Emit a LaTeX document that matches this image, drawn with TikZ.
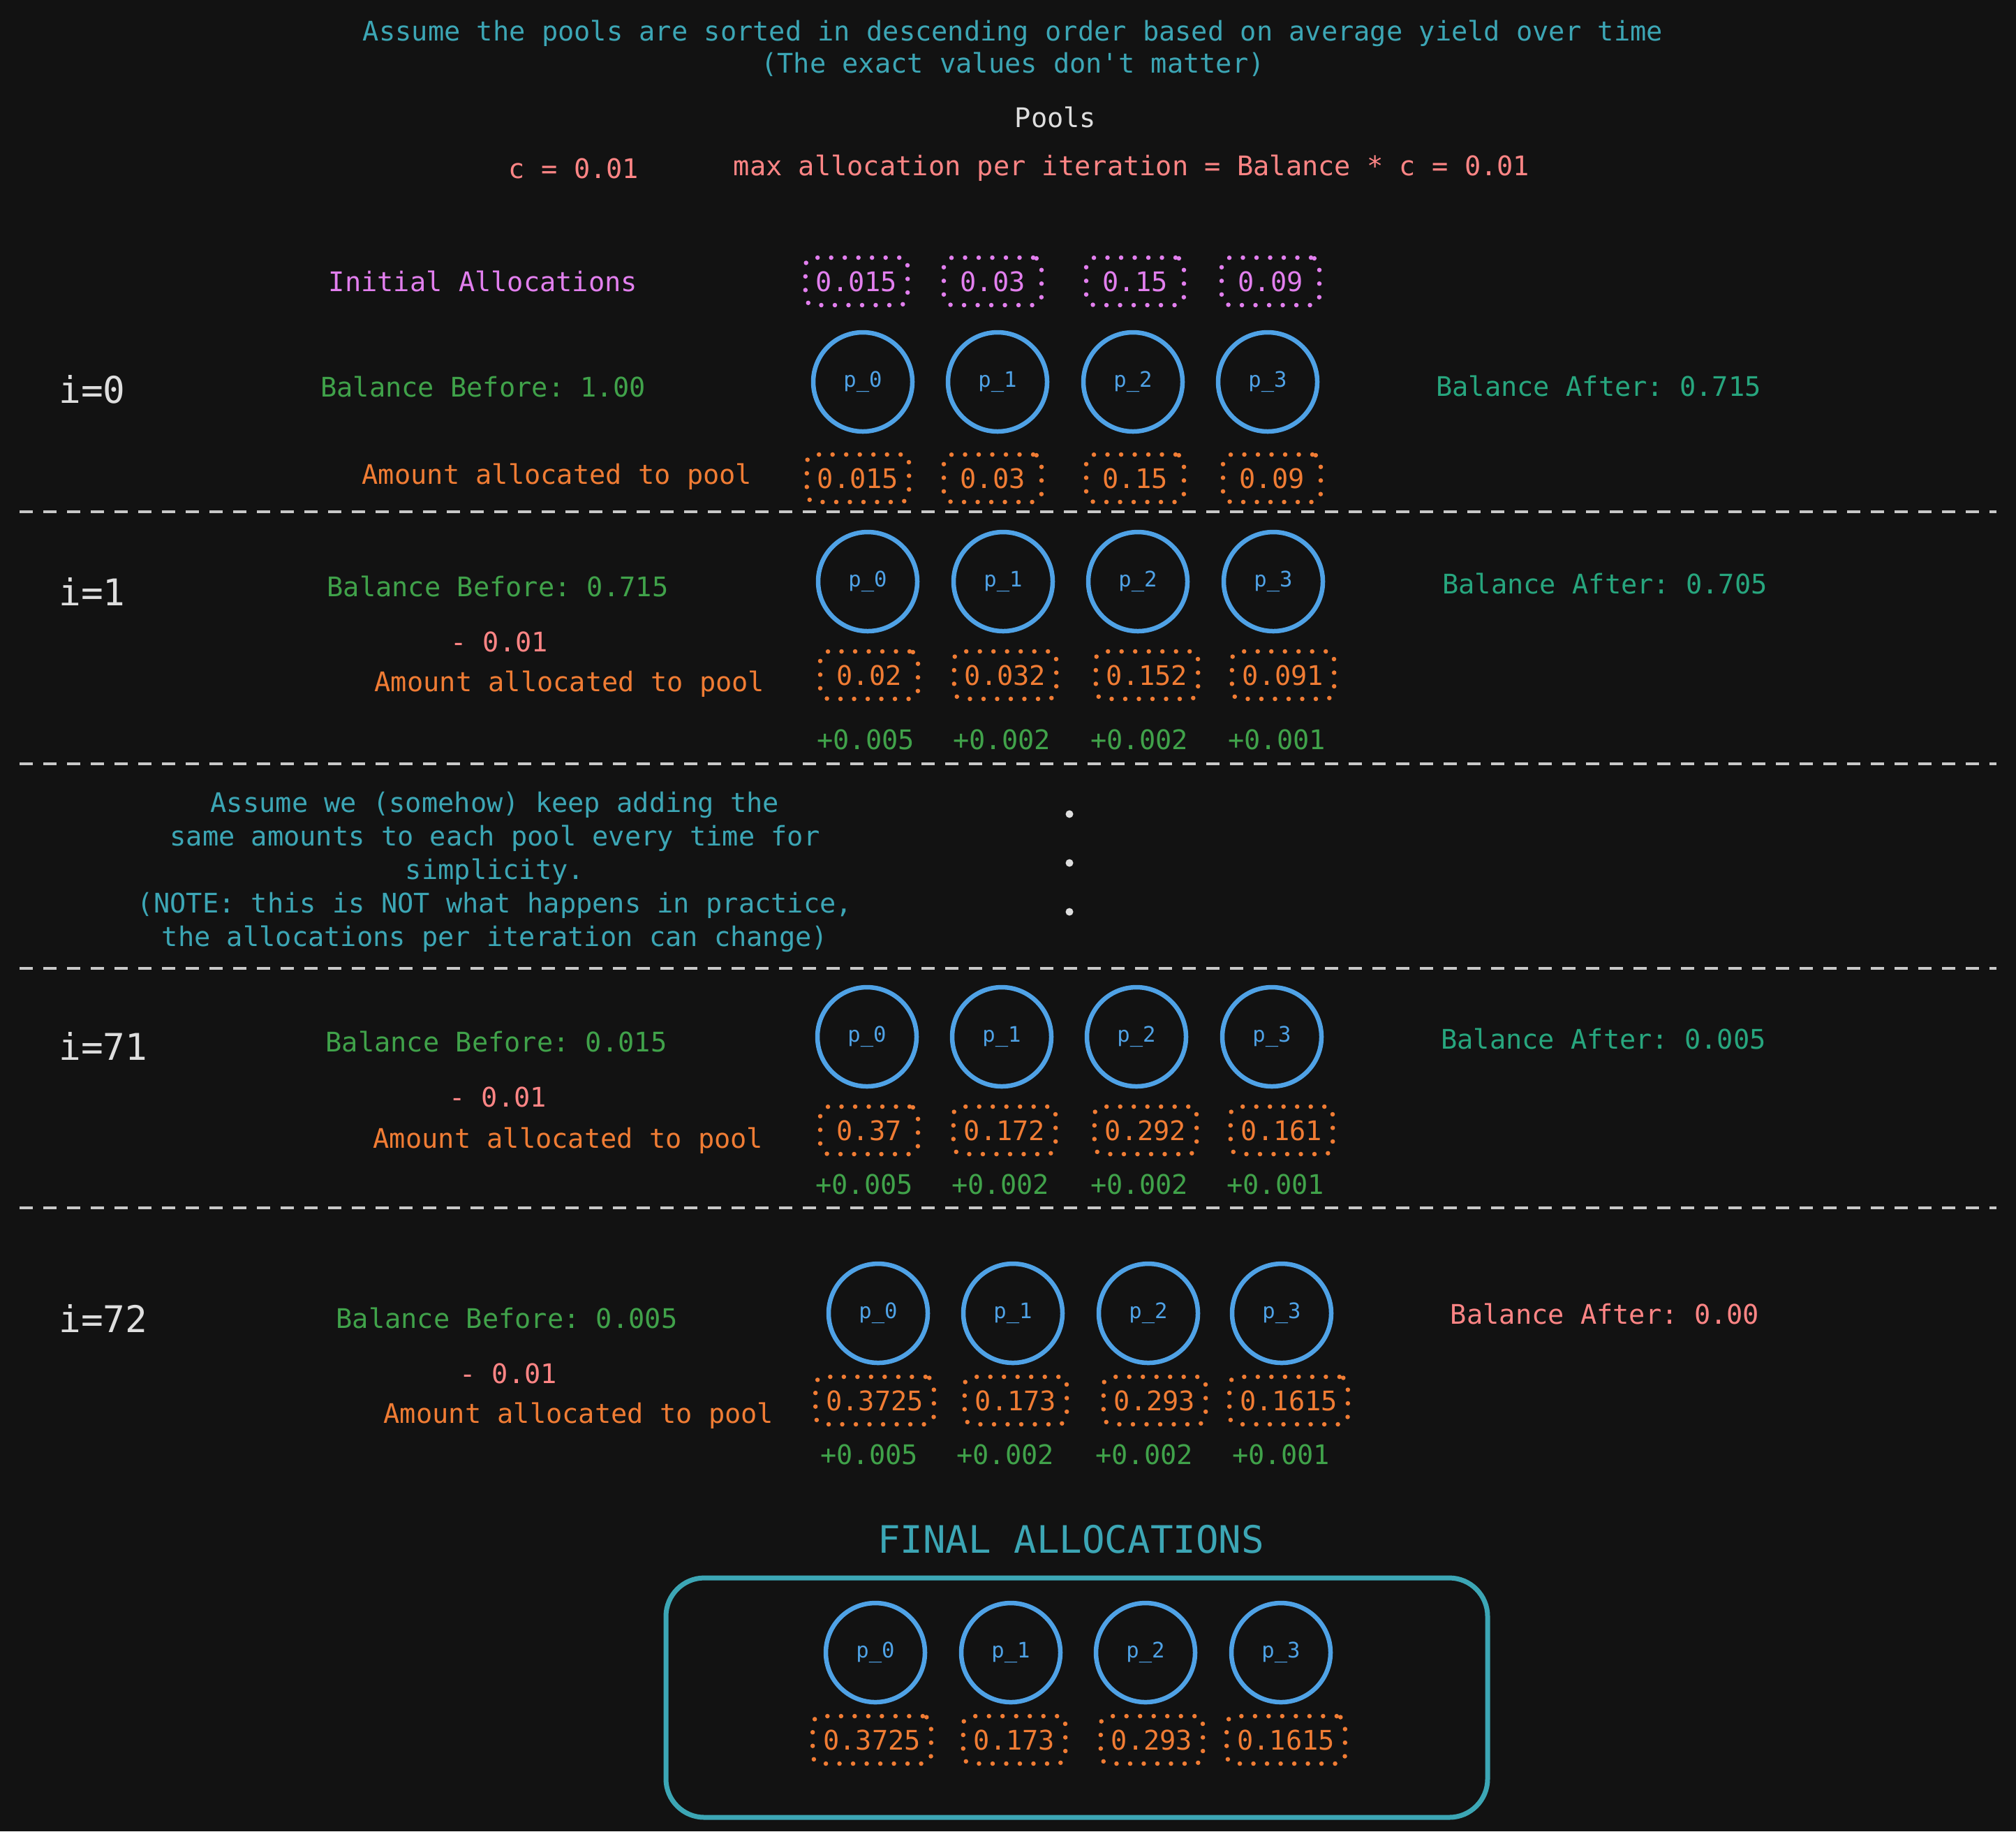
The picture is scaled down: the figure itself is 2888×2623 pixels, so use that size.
\documentclass[tikz,border=0pt]{standalone}
\usepackage{fontspec}
\setmainfont{DejaVu Sans Mono}
\frenchspacing
\definecolor{bg}{HTML}{121212}
\definecolor{titlecyan}{HTML}{3CA6B5}
\definecolor{pinkred}{HTML}{FF8585}
\definecolor{violetc}{HTML}{E27FEE}
\definecolor{greenc}{HTML}{40A24A}
\definecolor{tealc}{HTML}{27A67E}
\definecolor{orangec}{HTML}{F07C34}
\definecolor{poolblue}{HTML}{4FA2E6}
\definecolor{whitec}{HTML}{DEDEDE}
\tikzset{
  pool/.style={draw=poolblue, line width=0.65mm, circle, minimum size=14.2mm, inner sep=0pt,
    text=poolblue, font=\fontsize{8.7}{10}\selectfont},
  amount/.style={draw=orangec, line width=0.65mm, dash pattern=on 0pt off 1.95mm, line cap=round,
    rounded corners=1.2mm, minimum width=14mm, minimum height=6.8mm, inner xsep=1.5mm, text=orangec},
  initbox/.style={amount, draw=violetc, text=violetc},
  gain/.style={text=greenc},
  sepline/.style={draw=whitec!90!black, line width=0.4mm, dash pattern=on 1.9mm off 1.5mm},
  iter/.style={anchor=west, text=whitec, font=\fontsize{15}{18}\selectfont},
  dotnode/.style={circle, fill=whitec, inner sep=0pt, minimum width=0.9mm, minimum height=1.1mm}
}
\begin{document}
\begin{tikzpicture}[x=0.1mm,y=-0.1mm,font=\fontsize{11}{13.6}\selectfont]
  \fill[bg] (0,0) rectangle (2888,2623);
  \useasboundingbox (0,0) rectangle (2888,2623);

  % header
  \node[text=titlecyan, align=center, font=\fontsize{11}{13}\selectfont] (title) at (1451,69)
    {Assume the pools are sorted in descending order based on average yield over time\\(The exact values don\textquotesingle t matter)};
  \node[text=whitec] (pools) at (1512,168) {Pools};
  \node[text=pinkred] (cval) at (822,241) {c = 0.01};
  \node[text=pinkred] (maxalloc) at (1621,241) {max allocation per iteration = Balance * c = 0.01};

  % initial allocations
  \node[text=violetc] (initlbl) at (692,403) {Initial Allocations};
  \foreach \x/\v [count=\k from 0] in {1227/0.015, 1422/0.03, 1626/0.15, 1820/0.09}
    \node[initbox] (init-\k) at (\x,403) {\v};

  % i=0
  \node[iter] (it0) at (72,558) {i=0};
  \node[text=greenc] (before0) at (692,554) {Balance Before: 1.00};
  \node[text=tealc] (after0) at (2290,553) {Balance After: 0.715};
  \node[text=orangec] (amt0) at (798,683) {Amount allocated to pool};
  \foreach \x/\k in {1236/0, 1429/1, 1623/2, 1816/3}
    \node[pool] (pa-\k) at (\x,547) {p\_\k};
  \foreach \x/\v [count=\k from 0] in {1229/0.015, 1422/0.03, 1626/0.15, 1822/0.09}
    \node[amount] (aa-\k) at (\x,685) {\v};
  \draw[sepline] (28,733) -- (2860,733);

  % i=1
  \node[iter] (it1) at (72,847) {i=1};
  \node[text=greenc] (before1) at (713,840) {Balance Before: 0.715};
  \node[text=tealc] (after1) at (2299,836) {Balance After: 0.705};
  \node[text=pinkred] (minus1) at (715,919) {- 0.01};
  \node[text=orangec] (amt1) at (816,980) {Amount allocated to pool};
  \foreach \x/\k in {1243/0, 1437/1, 1630/2, 1824/3}
    \node[pool] (pb-\k) at (\x,833) {p\_\k};
  \foreach \x/\v [count=\k from 0] in {1245/0.02, 1440/0.032, 1643/0.152, 1838/0.091}
    \node[amount] (ab-\k) at (\x,967) {\v};
  \foreach \x/\v [count=\k from 0] in {1240/+0.005, 1435/+0.002, 1632/+0.002, 1829/+0.001}
    \node[gain] (gb-\k) at (\x,1059) {\v};
  \draw[sepline] (28,1094) -- (2860,1094);

  % skipped iterations
  \node[text=titlecyan, align=center] (note) at (709,1249)
    {Assume we (somehow) keep adding the\\same amounts to each pool every time for\\simplicity.\\(NOTE: this is NOT what happens in practice,\\the allocations per iteration can change)};
  \foreach \y [count=\k] in {1166, 1236, 1306}
    \node[dotnode] (dot\k) at (1532,\y) {};
  \draw[sepline] (28,1387) -- (2860,1387);

  % i=71
  \node[iter] (it71) at (72,1498) {i=71};
  \node[text=greenc] (before71) at (711,1492) {Balance Before: 0.015};
  \node[text=tealc] (after71) at (2297,1488) {Balance After: 0.005};
  \node[text=pinkred] (minus71) at (713,1571) {- 0.01};
  \node[text=orangec] (amt71) at (814,1634) {Amount allocated to pool};
  \foreach \x/\k in {1242/0, 1435/1, 1628/2, 1822/3}
    \node[pool] (pc-\k) at (\x,1485) {p\_\k};
  \foreach \x/\v [count=\k from 0] in {1245/0.37, 1439/0.172, 1641/0.292, 1836/0.161}
    \node[amount] (ac-\k) at (\x,1619) {\v};
  \foreach \x/\v [count=\k from 0] in {1238/+0.005, 1433/+0.002, 1632/+0.002, 1827/+0.001}
    \node[gain] (gc-\k) at (\x,1696) {\v};
  \draw[sepline] (28,1730) -- (2860,1730);

  % i=72
  \node[iter] (it72) at (72,1888) {i=72};
  \node[text=greenc] (before72) at (726,1888) {Balance Before: 0.005};
  \node[text=pinkred] (after72) at (2299,1882) {Balance After: 0.00};
  \node[text=pinkred] (minus72) at (728,1967) {- 0.01};
  \node[text=orangec] (amt72) at (829,2028) {Amount allocated to pool};
  \foreach \x/\k in {1258/0, 1451/1, 1645/2, 1836/3}
    \node[pool] (pd-\k) at (\x,1881) {p\_\k};
  \foreach \x/\v [count=\k from 0] in {1253/0.3725, 1455/0.173, 1654/0.293, 1846/0.1615}
    \node[amount] (ad-\k) at (\x,2006) {\v};
  \foreach \x/\v [count=\k from 0] in {1245/+0.005, 1440/+0.002, 1639/+0.002, 1835/+0.001}
    \node[gain] (gd-\k) at (\x,2083) {\v};

  % final allocations
  \node[text=titlecyan, font=\fontsize{15.4}{18}\selectfont] (finallbl) at (1534,2205) {FINAL ALLOCATIONS};
  \draw[titlecyan, line width=0.7mm, rounded corners=5.5mm] (954,2260) rectangle (2131,2603);
  \foreach \x/\k in {1254/0, 1448/1, 1641/2, 1835/3}
    \node[pool] (pf-\k) at (\x,2367) {p\_\k};
  \foreach \x/\v [count=\k from 0] in {1249/0.3725, 1453/0.173, 1650/0.293, 1842/0.1615}
    \node[amount] (af-\k) at (\x,2492) {\v};
\end{tikzpicture}
\end{document}
